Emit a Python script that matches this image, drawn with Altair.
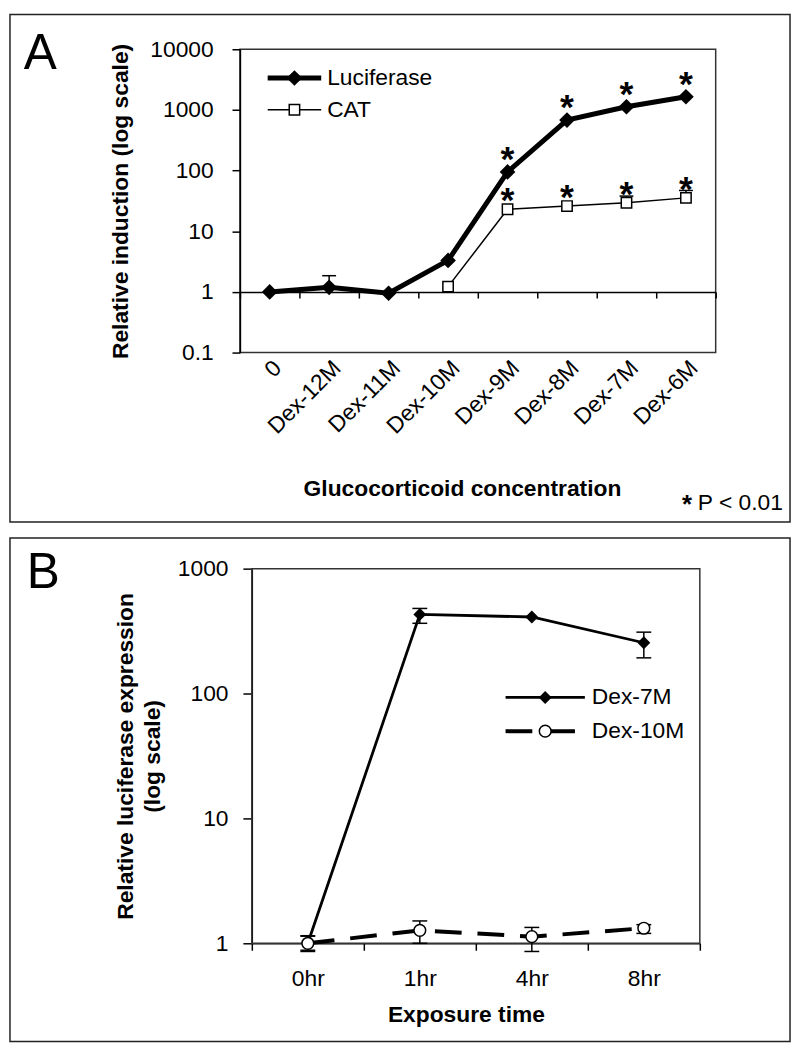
import altair as alt
import pandas as pd

FONT = "Liberation Sans"

# ---------------- Panel A data ----------------
conc = ["0", "Dex-12M", "Dex-11M", "Dex-10M", "Dex-9M", "Dex-8M", "Dex-7M", "Dex-6M"]
luc = [1.0, 1.19, 0.95, 3.3, 95, 680, 1130, 1650]
luc_hi = [None, 1.85, None, None, None, None, None, None]
luc_sig = [False, False, False, False, True, True, True, True]
cat_conc = ["Dex-10M", "Dex-9M", "Dex-8M", "Dex-7M", "Dex-6M"]
cat = [1.22, 23, 26, 29.5, 35.5]
cat_hi = [None, None, None, 38, 47]
cat_sig = [False, True, True, True, True]
yA_ticks = [0.1, 1, 10, 100, 1000, 10000]

# ---------------- Panel B data ----------------
times = ["0hr", "1hr", "4hr", "8hr"]
dex7 = [1.0, 430, 410, 255]
dex7_lo = [0.88, 365, None, 193]
dex7_hi = [1.15, 480, None, 310]
dex10 = [1.0, 1.27, 1.13, 1.32]
dex10_lo = [0.86, 1.0, 0.86, 1.2]
dex10_hi = [1.14, 1.51, 1.34, 1.41]
yB_ticks = [1, 10, 100, 1000]

# ---------------- tables ----------------
luc_df = pd.DataFrame({"conc": conc, "val": luc, "hi": luc_hi, "sig": luc_sig})
cat_df = pd.DataFrame({"conc": cat_conc, "val": cat, "hi": cat_hi, "sig": cat_sig})
errA = pd.concat([luc_df.dropna(subset=["hi"]), cat_df.dropna(subset=["hi"])])[["conc", "val", "hi"]]
sig_luc = luc_df[luc_df["sig"]][["conc", "val"]]
sig_cat = cat_df[cat_df["sig"]][["conc", "val"]]

d7 = pd.DataFrame({"time": times, "val": dex7, "lo": dex7_lo, "hi": dex7_hi})
d10 = pd.DataFrame({"time": times, "val": dex10, "lo": dex10_lo, "hi": dex10_hi})
errB = pd.concat([d7, d10]).dropna(subset=["lo", "hi"])[["time", "lo", "hi"]]
capsB = pd.concat([
    errB[["time", "lo"]].rename(columns={"lo": "v"}),
    errB[["time", "hi"]].rename(columns={"hi": "v"}),
])

LABEL_SIZE = 23
TITLE_SIZE = 23
TEXT_SIZE = 23

# ================= Panel A =================
WA, HA = 480, 306
xA_scale = alt.Scale(type="band", domain=conc, paddingInner=0, paddingOuter=0)
yA_scale = alt.Scale(type="log", domain=[0.1, 10000], nice=False)

xA_axis = alt.Axis(
    title="Glucocorticoid concentration", offset=-61, tickBand="extent",
    tickSize=6, tickWidth=1.5, tickColor="black", domainColor="black", domainWidth=1.5,
    labelAngle=-45, labelPadding=59, labelFontSize=LABEL_SIZE, labelColor="black",
    labelOverlap=False, labelLimit=300, titleFontSize=TITLE_SIZE, titleFontWeight="bold",
    titleColor="black", titleX=224, titleY=198, titleAlign="center", titleBaseline="middle",
    grid=False,
)
yA_axis = alt.Axis(
    values=yA_ticks, format="~g", title="Relative induction (log scale)",
    tickSize=8, tickWidth=1.5, tickColor="black", domainColor="black", domainWidth=1.5,
    labelPadding=19, labelFontSize=LABEL_SIZE, labelColor="black", labelOverlap=False,
    labelLimit=300, titleFontSize=TITLE_SIZE, titleFontWeight="bold", titleColor="black",
    titleX=-120, titleY=153, titleAlign="center", titleBaseline="middle", grid=False,
)


def xA():
    return alt.X("conc:N", scale=xA_scale, bandPosition=0.5, axis=xA_axis)


def yA(field="val"):
    return alt.Y(f"{field}:Q", scale=yA_scale, axis=yA_axis)


one = pd.DataFrame({"k": [0]})

frameA = alt.Chart(one).mark_rect(fillOpacity=0, stroke="#222", strokeWidth=1.5).encode(
    x=alt.value(-232), x2=alt.value(555), y=alt.value(-35), y2=alt.value(477))

line_luc = alt.Chart(luc_df).mark_line(color="black", strokeWidth=5).encode(x=xA(), y=yA())
line_cat = alt.Chart(cat_df).mark_line(color="black", strokeWidth=1.5).encode(x=xA(), y=yA())
err_rule_A = alt.Chart(errA).mark_rule(color="black", strokeWidth=1.5).encode(
    x=xA(), y=yA("val"), y2="hi:Q")
err_cap_A = alt.Chart(errA).mark_point(shape="stroke", size=196, color="black",
                                        strokeWidth=1.5, opacity=1).encode(x=xA(), y=yA("hi"))
pt_luc = alt.Chart(luc_df).mark_point(shape="diamond", filled=True, size=250, color="black",
                                      opacity=1).encode(x=xA(), y=yA())
pt_cat = alt.Chart(cat_df).mark_point(shape="square", filled=True, fill="white", stroke="black",
                                      strokeWidth=1.5, size=110, opacity=1).encode(x=xA(), y=yA())
star_luc = alt.Chart(sig_luc).mark_text(text="*", font=FONT, fontSize=36, fontWeight="bold",
                                        baseline="alphabetic", dy=-1, color="black").encode(x=xA(), y=yA())
star_cat = alt.Chart(sig_cat).mark_text(text="*", font=FONT, fontSize=36, fontWeight="bold",
                                        baseline="alphabetic", dy=3, color="black").encode(x=xA(), y=yA())

# legend A
legA_l1 = alt.Chart(one).mark_rule(color="black", strokeWidth=5).encode(
    x=alt.value(28), x2=alt.value(82), y=alt.value(29))
legA_p1 = alt.Chart(one).mark_point(shape="diamond", filled=True, size=250, color="black",
                                    opacity=1).encode(x=alt.value(55), y=alt.value(29))
legA_t1 = alt.Chart(pd.DataFrame({"label": ["Luciferase"]})).mark_text(
    align="left", baseline="middle", font=FONT, fontSize=TEXT_SIZE, color="black").encode(
    x=alt.value(88), y=alt.value(29), text="label:N")
legA_l2 = alt.Chart(one).mark_rule(color="black", strokeWidth=1.5).encode(
    x=alt.value(28), x2=alt.value(82), y=alt.value(61))
legA_p2 = alt.Chart(one).mark_point(shape="square", filled=True, fill="white", stroke="black",
                                    strokeWidth=1.5, size=110, opacity=1).encode(
    x=alt.value(55), y=alt.value(61))
legA_t2 = alt.Chart(pd.DataFrame({"label": ["CAT"]})).mark_text(
    align="left", baseline="middle", font=FONT, fontSize=TEXT_SIZE, color="black").encode(
    x=alt.value(88), y=alt.value(61), text="label:N")

labelA = alt.Chart(pd.DataFrame({"label": ["A"]})).mark_text(
    align="left", baseline="alphabetic", font=FONT, fontSize=50, color="black").encode(
    x=alt.value(-218), y=alt.value(20), text="label:N")
foot_star = alt.Chart(pd.DataFrame({"label": ["*"]})).mark_text(
    align="center", baseline="alphabetic", font=FONT, fontSize=26, fontWeight="bold",
    color="black").encode(x=alt.value(451), y=alt.value(468), text="label:N")
foot_txt = alt.Chart(pd.DataFrame({"label": ["P < 0.01"]})).mark_text(
    align="left", baseline="middle", font=FONT, fontSize=TEXT_SIZE, color="black").encode(
    x=alt.value(462), y=alt.value(458), text="label:N")

panelA = alt.layer(
    line_luc, line_cat, err_rule_A, err_cap_A, pt_cat, pt_luc, star_luc, star_cat,
    legA_l1, legA_p1, legA_t1, legA_l2, legA_p2, legA_t2, labelA, foot_star, foot_txt, frameA,
).properties(width=WA, height=HA)

# ================= Panel B =================
# plot origin shared with panel A; B's plot box starts 12 px further right
WB, HB = 464, 378
BX0 = 12
xB_scale = alt.Scale(type="band", domain=times, range=[BX0, WB], paddingInner=0, paddingOuter=0)
yB_scale = alt.Scale(type="log", domain=[1, 1000], nice=False)

xB_axis = alt.Axis(
    title="Exposure time", tickBand="extent", tickSize=7, tickWidth=1.5, tickColor="black",
    domainColor="black", domainWidth=1.5, labelAngle=0, labelPadding=18,
    labelFontSize=LABEL_SIZE, labelColor="black", labelOverlap=False, labelLimit=300,
    titleFontSize=TITLE_SIZE, titleFontWeight="bold", titleColor="black", titleX=228,
    titleY=72, titleAlign="center", titleBaseline="middle", grid=False,
)
yB_axis = alt.Axis(
    values=yB_ticks, format="~g", title=["Relative luciferase expression", "(log scale)"],
    offset=-BX0, tickSize=9, tickWidth=1.5, tickColor="black", domainColor="black",
    domainWidth=1.5, labelPadding=15, labelFontSize=LABEL_SIZE, labelColor="black",
    labelOverlap=False, labelLimit=300, titleFontSize=TITLE_SIZE, titleFontWeight="bold",
    titleColor="black", titleLineHeight=27, titleX=-127, titleY=189, titleAlign="center",
    titleBaseline="middle", grid=False,
)


def xB():
    return alt.X("time:N", scale=xB_scale, bandPosition=0.5, axis=xB_axis)


def yB(field="val"):
    return alt.Y(f"{field}:Q", scale=yB_scale, axis=yB_axis)


frameB = alt.Chart(one).mark_rect(fillOpacity=0, stroke="#222", strokeWidth=1.5).encode(
    x=alt.value(-232), x2=alt.value(555), y=alt.value(-31), y2=alt.value(477))
boxB = alt.Chart(one).mark_rect(fillOpacity=0, stroke="#333", strokeWidth=1.5).encode(
    x=alt.value(BX0), x2=alt.value(WB), y=alt.value(0), y2=alt.value(HB))

line7 = alt.Chart(d7).mark_line(color="black", strokeWidth=2.8).encode(x=xB(), y=yB())
line10 = alt.Chart(d10).mark_line(color="black", strokeWidth=4, strokeDash=[27, 16]).encode(
    x=xB(), y=yB())
err_rule_B = alt.Chart(errB).mark_rule(color="black", strokeWidth=1.5).encode(
    x=xB(), y=yB("lo"), y2="hi:Q")
err_cap_B = alt.Chart(capsB).mark_point(shape="stroke", size=225, color="black",
                                         strokeWidth=1.5, opacity=1).encode(x=xB(), y=yB("v"))
pt7 = alt.Chart(d7).mark_point(shape="diamond", filled=True, size=170, color="black",
                               opacity=1).encode(x=xB(), y=yB())
pt10 = alt.Chart(d10).mark_point(shape="circle", filled=True, fill="white", stroke="black",
                                 strokeWidth=1.5, size=140, opacity=1).encode(x=xB(), y=yB())

legB_l1 = alt.Chart(one).mark_rule(color="black", strokeWidth=2.8).encode(
    x=alt.value(268), x2=alt.value(348), y=alt.value(130))
legB_p1 = alt.Chart(one).mark_point(shape="diamond", filled=True, size=170, color="black",
                                    opacity=1).encode(x=alt.value(308), y=alt.value(130))
legB_t1 = alt.Chart(pd.DataFrame({"label": ["Dex-7M"]})).mark_text(
    align="left", baseline="middle", font=FONT, fontSize=TEXT_SIZE, color="black").encode(
    x=alt.value(355), y=alt.value(130), text="label:N")
legB_l2 = alt.Chart(one).mark_rule(color="black", strokeWidth=4, strokeDash=[27, 16]).encode(
    x=alt.value(268), x2=alt.value(348), y=alt.value(164))
legB_p2 = alt.Chart(one).mark_point(shape="circle", filled=True, fill="white", stroke="black",
                                    strokeWidth=1.5, size=140, opacity=1).encode(
    x=alt.value(308), y=alt.value(164))
legB_t2 = alt.Chart(pd.DataFrame({"label": ["Dex-10M"]})).mark_text(
    align="left", baseline="middle", font=FONT, fontSize=TEXT_SIZE, color="black").encode(
    x=alt.value(355), y=alt.value(164), text="label:N")

labelB = alt.Chart(pd.DataFrame({"label": ["B"]})).mark_text(
    align="left", baseline="alphabetic", font=FONT, fontSize=50, color="black").encode(
    x=alt.value(-215), y=alt.value(20), text="label:N")

panelB = alt.layer(
    boxB, line7, line10, err_rule_B, err_cap_B, pt7, pt10,
    legB_l1, legB_p1, legB_t1, legB_l2, legB_p2, legB_t2, labelB, frameB,
).properties(width=WB, height=HB, view=alt.ViewBackground(stroke="transparent"))

chart = alt.vconcat(panelA, panelB, spacing=12).properties(
    padding=0, background="white"
).configure_view(stroke="#333", strokeWidth=1.5).configure_axis(
    labelFont=FONT, titleFont=FONT, labelFontSize=LABEL_SIZE, titleFontSize=TITLE_SIZE
).configure_text(font=FONT)

chart.save("out.html", embed_options={"renderer": "svg", "actions": False})
